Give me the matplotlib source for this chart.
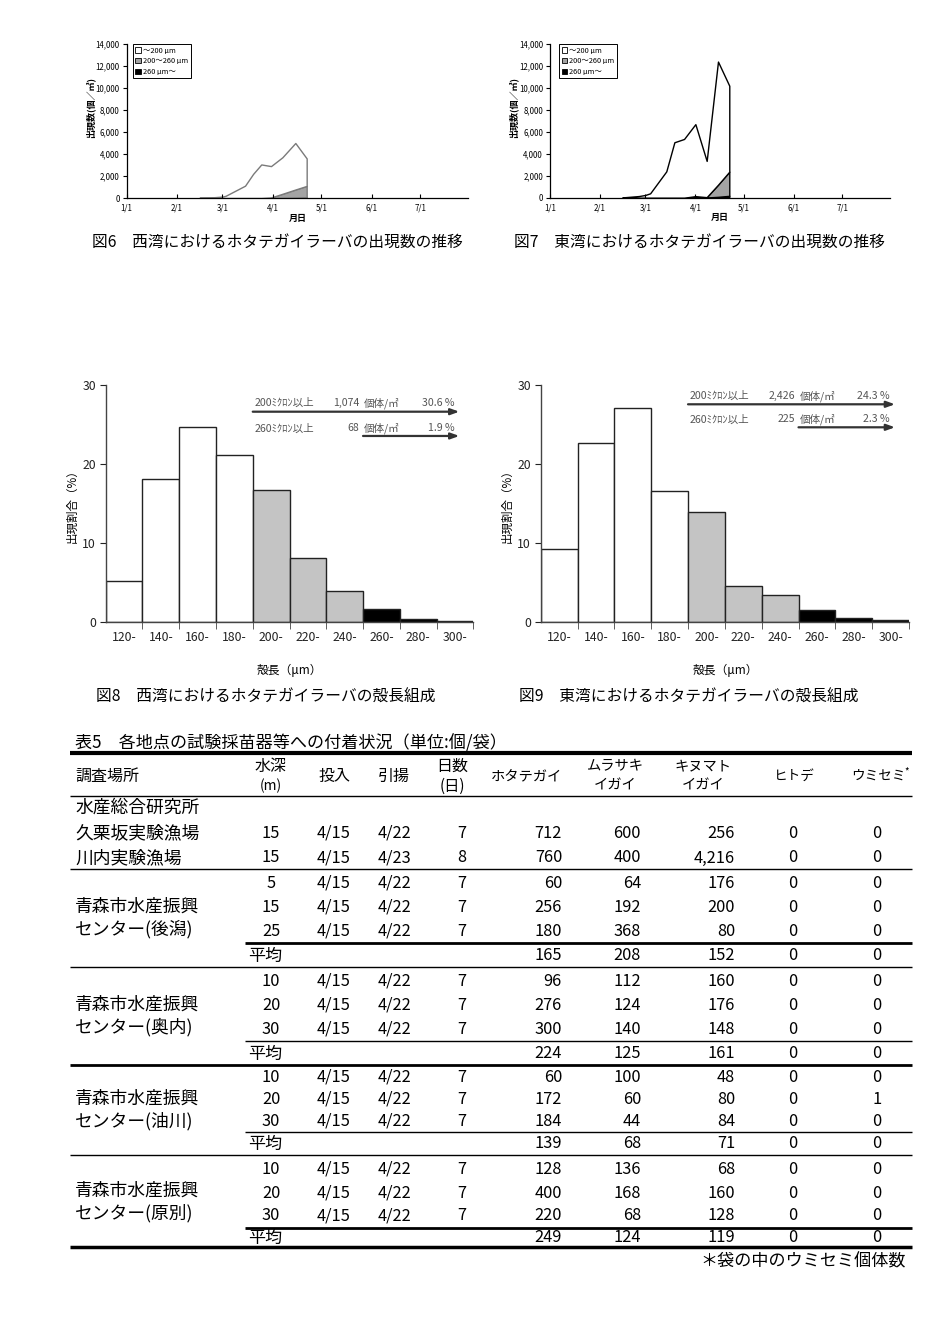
import matplotlib
matplotlib.use('Agg')
import matplotlib.pyplot as plt
from matplotlib.patches import Patch
import numpy as np
import pandas as pd

plt.rcParams['font.family'] = ['Noto Sans CJK JP', 'DejaVu Sans']

# ---------------- data ----------------
month_ticks = ['1/1', '2/1', '3/1', '4/1', '5/1', '6/1', '7/1']
count_ticks = [0, 2000, 4000, 6000, 8000, 10000, 12000, 14000]
size_legend = ['～200 μm', '200～260 μm', '260 μm～']

west_dates = ['2/15', '2/22', '3/1', '3/3', '3/15', '3/20', '3/25', '3/31', '4/7', '4/15', '4/22']
west_total = [30, 50, 130, 200, 1120, 2200, 3050, 2900, 3700, 5000, 3600]
west_mid = [0, 0, 0, 0, 0, 0, 0, 50, 380, 750, 1050]
west_large = [0, 0, 0, 0, 0, 0, 0, 0, 0, 20, 50]

east_dates = ['2/15', '2/25', '3/1', '3/4', '3/14', '3/19', '3/25', '4/1', '4/8', '4/15', '4/22']
east_total = [30, 150, 250, 400, 2400, 5050, 5350, 6700, 3350, 12400, 10200]
east_mid = [0, 0, 0, 0, 0, 0, 0, 80, 30, 1100, 2200]
east_large = [0, 0, 0, 0, 0, 0, 0, 60, 20, 80, 170]

size_classes = ['120-', '140-', '160-', '180-', '200-', '220-', '240-', '260-', '280-', '300-']
class_lower = [120, 140, 160, 180, 200, 220, 240, 260, 280, 300]
west_pct = [5.2, 18.15, 24.7, 21.2, 16.75, 8.04, 3.93, 1.57, 0.38, 0.13]
east_pct = [9.22, 22.68, 27.08, 16.63, 13.92, 4.57, 3.39, 1.48, 0.51, 0.17]
pct_ticks = [0, 10, 20, 30]

west_ann_label = ['200ﾐｸﾛﾝ以上', '260ﾐｸﾛﾝ以上']
west_ann_count = ['1,074', '68']
west_ann_pct = ['30.6 %', '1.9 %']
east_ann_label = ['200ﾐｸﾛﾝ以上', '260ﾐｸﾛﾝ以上']
east_ann_count = ['2,426', '225']
east_ann_pct = ['24.3 %', '2.3 %']
ann_from = [200, 260]

captions = ['図6　西湾におけるホタテガイラーバの出現数の推移',
            '図7　東湾におけるホタテガイラーバの出現数の推移',
            '図8　西湾におけるホタテガイラーバの殻長組成',
            '図9　東湾におけるホタテガイラーバの殻長組成']

table_title = '表5　各地点の試験採苗器等への付着状況（単位:個/袋）'
institute = '水産総合研究所'
single_sites = ['久栗坂実験漁場', '川内実験漁場']
group_sites = [['青森市水産振興', 'センター(後潟)'],
               ['青森市水産振興', 'センター(奥内)'],
               ['青森市水産振興', 'センター(油川)'],
               ['青森市水産振興', 'センター(原別)']]
depth = [15, 15, 5, 15, 25, 10, 20, 30, 10, 20, 30, 10, 20, 30]
set_in = ['4/15', '4/15', '4/15', '4/15', '4/15', '4/15', '4/15', '4/15', '4/15', '4/15', '4/15', '4/15', '4/15', '4/15']
pull_up = ['4/22', '4/23', '4/22', '4/22', '4/22', '4/22', '4/22', '4/22', '4/22', '4/22', '4/22', '4/22', '4/22', '4/22']
n_days = [7, 8, 7, 7, 7, 7, 7, 7, 7, 7, 7, 7, 7, 7]
hotate = [712, 760, 60, 256, 180, 96, 276, 300, 60, 172, 184, 128, 400, 220]
murasaki = [600, 400, 64, 192, 368, 112, 124, 140, 100, 60, 44, 136, 168, 68]
kinumato = [256, 4216, 176, 200, 80, 160, 176, 148, 48, 80, 84, 68, 160, 128]
hitode = [0, 0, 0, 0, 0, 0, 0, 0, 0, 0, 0, 0, 0, 0]
umisemi = [0, 0, 0, 0, 0, 0, 0, 0, 0, 1, 0, 0, 0, 0]
avg_hotate = [165, 224, 139, 249]
avg_murasaki = [208, 125, 68, 124]
avg_kinumato = [152, 161, 71, 119]
avg_hitode = [0, 0, 0, 0]
avg_umisemi = [0, 0, 0, 0]
footnote = '＊袋の中のウミセミ個体数'

# ---------------- helpers ----------------
W, H = 944, 1337
fig = plt.figure(figsize=(W / 100, H / 100), dpi=100)


def px_axes(l, t, r, b):
    return fig.add_axes([l / W, 1 - b / H, (r - l) / W, (b - t) / H])


def doy(strs):
    d = pd.to_datetime(['2023/' + s for s in strs])
    return (d.dayofyear - 1).to_numpy()


ov = fig.add_axes([0, 0, 1, 1])
ov.set_xlim(0, W)
ov.set_ylim(H, 0)
ov.axis('off')

# ---------------- top time-series charts ----------------
def series_chart(box, dates, total, mid, large, linecolor, legend_x):
    ax = px_axes(*box)
    x = doy(dates)
    tot = np.array(total, float)
    m = np.array(mid, float)
    lg = np.array(large, float)
    small = tot - m - lg
    ax.stackplot(x, lg, m, small, colors=['black', '#a3a3a3', 'white'],
                 edgecolor=linecolor, linewidth=1.0)
    ax.set_xlim(0, 210.5)
    ax.set_ylim(0, 14000)
    ax.set_xticks(doy(month_ticks), month_ticks)
    ax.set_yticks(count_ticks, [f'{v:,}' for v in count_ticks])
    for s in ['top', 'right']:
        ax.spines[s].set_visible(False)
    for s in ['left', 'bottom']:
        ax.spines[s].set_linewidth(0.9)
    ax.tick_params(axis='x', direction='in', length=3, pad=4, labelsize=5.7)
    ax.tick_params(axis='y', direction='out', length=3, pad=2, labelsize=5.7)
    ax.text(0.5, -0.13, '月日', transform=ax.transAxes, ha='center', va='center',
            fontsize=6.5, fontweight='bold')
    ax.text(-0.107, 0.59, '出現数(個／㎥)', transform=ax.transAxes, ha='center',
            va='center', rotation=90, fontsize=6.5, fontweight='bold')
    handles = [Patch(facecolor=c, edgecolor='black', linewidth=0.6)
               for c in ['white', '#a3a3a3', 'black']]
    leg = ax.legend(handles, size_legend, loc='upper left',
                    bbox_to_anchor=(legend_x, 1.0), fontsize=5.3,
                    handlelength=0.7, handleheight=0.7, handletextpad=0.3,
                    labelspacing=0.35, borderpad=0.35, borderaxespad=0,
                    fancybox=False, framealpha=1, edgecolor='black')
    leg.get_frame().set_linewidth(0.7)
    return ax


series_chart((126.7, 44, 468, 198), west_dates, west_total, west_mid, west_large,
             '#7a7a7a', 0.018)
series_chart((550, 44, 890, 197.7), east_dates, east_total, east_mid, east_large,
             'black', 0.027)

# ---------------- histograms ----------------
def hist_chart(box, pct, labels, counts, pcts, arrow_y, text_y):
    ax = px_axes(*box)
    n = len(size_classes)
    xs = np.arange(n) + 0.5
    cols = ['white' if c < 200 else ('#c4c4c4' if c < 260 else 'black') for c in class_lower]
    ax.bar(xs, pct, width=1.0, color=cols, edgecolor='#222222', linewidth=1.0)
    ax.set_xlim(0, n)
    ax.set_ylim(0, 30)
    ax.set_xticks(xs, size_classes)
    ax.set_xticks(np.arange(1, n + 1), minor=True)
    ax.set_yticks(pct_ticks)
    for s in ['top', 'right']:
        ax.spines[s].set_visible(False)
    for s in ['left', 'bottom']:
        ax.spines[s].set_color('#444444')
        ax.spines[s].set_linewidth(1.0)
    ax.tick_params(axis='x', which='major', length=0, pad=7, labelsize=8.8, colors='#222222')
    ax.tick_params(axis='x', which='minor', length=5, direction='out', color='#444444')
    ax.tick_params(axis='y', length=4, direction='out', pad=3, labelsize=8.8, colors='#222222')
    ax.text(-0.092, 0.5, '出現割合（%）', transform=ax.transAxes, rotation=90,
            ha='center', va='center', fontsize=8.3)
    ax.text(0.5, -0.205, '殻長（μm）', transform=ax.transAxes, ha='center',
            va='center', fontsize=8.5)
    for i in range(2):
        start = class_lower.index(ann_from[i])
        ax.annotate('', xy=(9.62, arrow_y[i]), xytext=(start, arrow_y[i]),
                    arrowprops=dict(arrowstyle='-|>,head_length=0.5,head_width=0.18',
                                    color='#333333', lw=1.6, shrinkA=0, shrinkB=0))
        ax.text(4.05, text_y[i], labels[i], ha='left', va='center', fontsize=7.6, color='#555555')
        ax.text(6.9, text_y[i], counts[i], ha='right', va='center', fontsize=7.6, color='#555555')
        ax.text(7.03, text_y[i], '個体/㎡', ha='left', va='center', fontsize=7.6, color='#555555')
        ax.text(9.48, text_y[i], pcts[i], ha='right', va='center', fontsize=7.6, color='#555555')
    return ax


hist_chart((105.7, 385.3, 473.3, 621.7), west_pct, west_ann_label, west_ann_count,
           west_ann_pct, [26.65, 23.57], [27.75, 24.54])
hist_chart((540.7, 385.3, 909, 621.7), east_pct, east_ann_label, east_ann_count,
           east_ann_pct, [27.59, 24.67], [28.64, 25.69])

# ---------------- captions ----------------
cap_pos = [(92, 242), (514, 242), (96, 697), (519, 697)]
for (cx, cy), t in zip(cap_pos, captions):
    ov.text(cx, cy, t, ha='left', va='center', fontsize=11.3)

# ---------------- table ----------------
L, R = 70, 912
ov.text(75, 743, table_title, ha='left', va='center', fontsize=12.3)


def hline(y, lw, x0=L):
    ov.plot([x0, R], [y, y], color='black', lw=lw, solid_capstyle='butt')


hline(753, 3.0)
hline(796, 1.0)
hline(869, 1.0)
hline(943, 2.0, 245)
hline(967, 1.0)
hline(1041, 1.0, 245)
hline(1065, 2.0)
hline(1132, 1.0, 245)
hline(1155, 1.0)
hline(1228, 2.0, 245)
hline(1247, 2.5)

hs = 11.5
ov.text(75, 776, '調査場所', ha='left', va='center', fontsize=hs)
ov.text(271, 766, '水深', ha='center', va='center', fontsize=hs)
ov.text(271, 786, '(m)', ha='center', va='center', fontsize=hs - 1.5)
ov.text(334, 776, '投入', ha='center', va='center', fontsize=hs)
ov.text(394, 776, '引揚', ha='center', va='center', fontsize=hs)
ov.text(452, 766, '日数', ha='center', va='center', fontsize=hs)
ov.text(452, 786, '(日)', ha='center', va='center', fontsize=hs - 0.5)
ov.text(527, 776, 'ホタテガイ', ha='center', va='center', fontsize=10.3)
ov.text(615, 766, 'ムラサキ', ha='center', va='center', fontsize=10.3)
ov.text(615, 786, 'イガイ', ha='center', va='center', fontsize=10.3)
ov.text(703, 766, 'キヌマト', ha='center', va='center', fontsize=10.3)
ov.text(703, 786, 'イガイ', ha='center', va='center', fontsize=10.3)
ov.text(794, 776, 'ヒトデ', ha='center', va='center', fontsize=9.8)
ov.text(878, 776, 'ウミセミ', ha='center', va='center', fontsize=9.8)
ov.text(904, 771, '*', ha='left', va='center', fontsize=7)

ns = 11.8
ls = 12.8
row_y = [833, 858, 883, 907, 931, 981, 1005, 1029, 1077, 1099, 1121, 1169, 1193, 1216]
avg_y = [956, 1054, 1144, 1238]
group_label_y = [(907, 929), (1005, 1027), (1099, 1121), (1191, 1213)]

ov.text(75, 808, institute, ha='left', va='center', fontsize=ls)
for name, y in zip(single_sites, row_y[:2]):
    ov.text(75, y, name, ha='left', va='center', fontsize=ls)
for (l1, l2), (y1, y2) in zip(group_sites, group_label_y):
    ov.text(75, y1, l1, ha='left', va='center', fontsize=ls)
    ov.text(75, y2, l2, ha='left', va='center', fontsize=ls)

for i, y in enumerate(row_y):
    ov.text(271, y, str(depth[i]), ha='center', va='center', fontsize=ns)
    ov.text(334, y, set_in[i], ha='center', va='center', fontsize=ns)
    ov.text(394, y, pull_up[i], ha='center', va='center', fontsize=ns)
    ov.text(466, y, str(n_days[i]), ha='right', va='center', fontsize=ns)
    ov.text(562, y, f'{hotate[i]:,}', ha='right', va='center', fontsize=ns)
    ov.text(641, y, f'{murasaki[i]:,}', ha='right', va='center', fontsize=ns)
    ov.text(735, y, f'{kinumato[i]:,}', ha='right', va='center', fontsize=ns)
    ov.text(793, y, str(hitode[i]), ha='center', va='center', fontsize=ns)
    ov.text(877, y, str(umisemi[i]), ha='center', va='center', fontsize=ns)

for j, y in enumerate(avg_y):
    ov.text(248, y, '平均', ha='left', va='center', fontsize=ls - 0.5)
    ov.text(562, y, f'{avg_hotate[j]:,}', ha='right', va='center', fontsize=ns)
    ov.text(641, y, f'{avg_murasaki[j]:,}', ha='right', va='center', fontsize=ns)
    ov.text(735, y, f'{avg_kinumato[j]:,}', ha='right', va='center', fontsize=ns)
    ov.text(793, y, str(avg_hitode[j]), ha='center', va='center', fontsize=ns)
    ov.text(877, y, str(avg_umisemi[j]), ha='center', va='center', fontsize=ns)

ov.text(906, 1261, footnote, ha='right', va='center', fontsize=12.3)

fig.savefig('out.png', dpi=100)
